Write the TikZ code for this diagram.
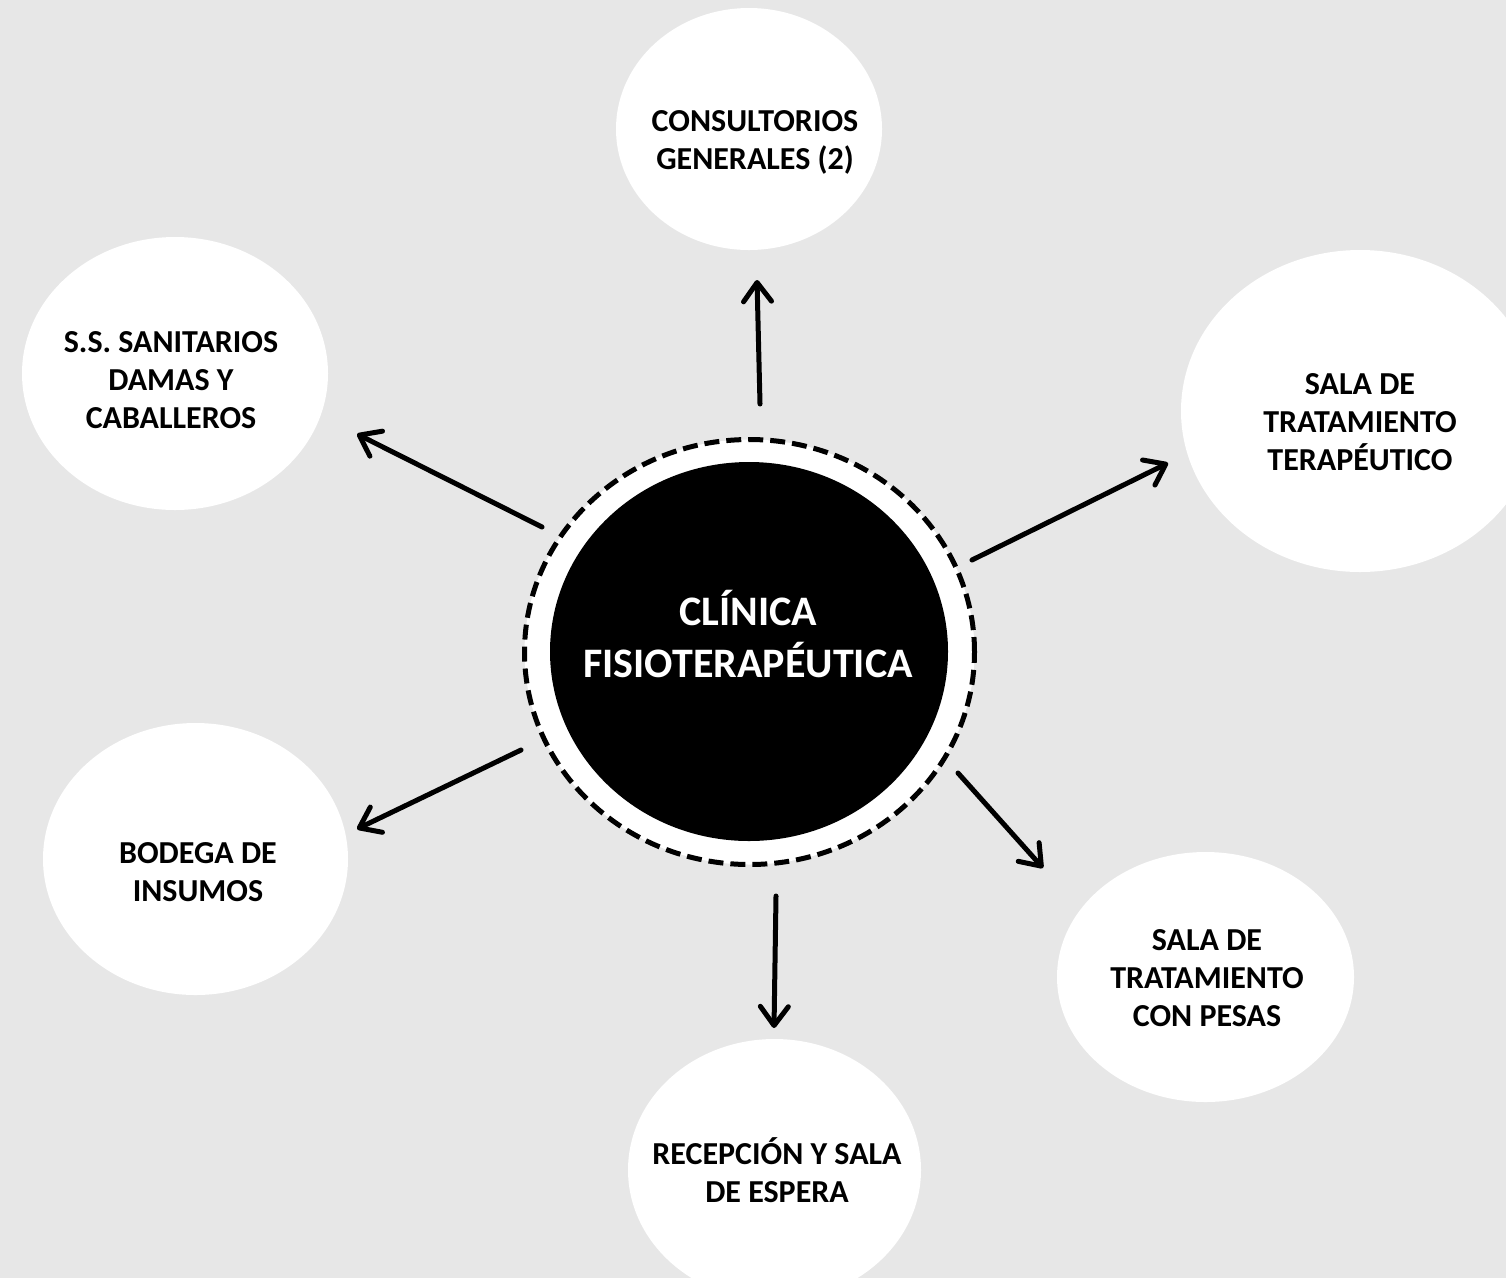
\documentclass[tikz,border=0pt]{standalone}
\usepackage{fontspec}
\setmainfont{Carlito}
\usetikzlibrary{shapes.geometric,arrows.meta}
\definecolor{bg}{RGB}{231,231,231}
\begin{document}
\begin{tikzpicture}[x=1pt,y=-1pt,
  room/.style={ellipse, fill=white, inner sep=0pt},
  roomtxt/.style={font=\fontsize{32}{38}\selectfont\bfseries, align=center, text=black, inner sep=0pt},
  link/.style={line width=5pt, line cap=round,
    -{Straight Barb[length=19pt,width=28pt,round]}}]
\useasboundingbox (0,0) rectangle (1506,1278);
\clip (0,0) rectangle (1506,1278);
\fill[bg] (0,0) rectangle (1506,1278);

% outer rooms
\node[room, minimum width=266pt, minimum height=242pt] (cons) at (749,129) {};
\node[room, minimum width=306pt, minimum height=273pt] (san) at (175,373.5) {};
\node[room, minimum width=358pt, minimum height=322pt] (ter) at (1360,411) {};
\node[room, minimum width=305pt, minimum height=272pt] (bod) at (195.5,859) {};
\node[room, minimum width=297pt, minimum height=250pt] (pes) at (1205.5,977) {};
\node[room, minimum width=293pt, minimum height=262pt] (rec) at (774.5,1170) {};

\node[roomtxt] (consT) at (755,142) {CONSULTORIOS\\GENERALES (2)};
\node[roomtxt] (sanT) at (171,380) {S.S. SANITARIOS\\DAMAS Y\\CABALLEROS};
\node[roomtxt] (terT) at (1360,422) {SALA DE\\TRATAMIENTO\\TERAPÉUTICO};
\node[roomtxt] (bodT) at (198,872) {BODEGA DE\\INSUMOS};
\node[roomtxt] (pesT) at (1207,978) {SALA DE\\TRATAMIENTO\\CON PESAS};
\node[roomtxt] (recT) at (777,1170) {RECEPCIÓN Y SALA\\DE ESPERA};

% centre
\node[ellipse, fill=white, draw=black, line width=5pt, dash pattern=on 15pt off 7pt,
  minimum width=450pt, minimum height=425pt, inner sep=0pt] (ring) at (749.5,652) {};
\node[ellipse, fill=black, minimum width=398pt, minimum height=379pt, inner sep=0pt] (core) at (749,651.5) {};
\node[font=\fontsize{42}{52}\selectfont\bfseries, align=center, text=white, inner sep=0pt] (clin) at (748,634) {CLÍNICA\\FISIOTERAPÉUTICA};

% arrow ends
\coordinate (a1s) at (760,404);  \coordinate (a1e) at (757,280);
\coordinate (a2s) at (542,527);  \coordinate (a2e) at (357,434);
\coordinate (a3s) at (972,560);  \coordinate (a3e) at (1168,463);
\coordinate (a4s) at (521,750);  \coordinate (a4e) at (357,829);
\coordinate (a5s) at (958,773);  \coordinate (a5e) at (1043,868);
\coordinate (a6s) at (776,896);  \coordinate (a6e) at (774,1028);

\draw[link] (a1s) -- (a1e);
\draw[link] (a2s) -- (a2e);
\draw[link] (a3s) -- (a3e);
\draw[link] (a4s) -- (a4e);
\draw[link] (a5s) -- (a5e);
\draw[link] (a6s) -- (a6e);
\end{tikzpicture}
\end{document}
